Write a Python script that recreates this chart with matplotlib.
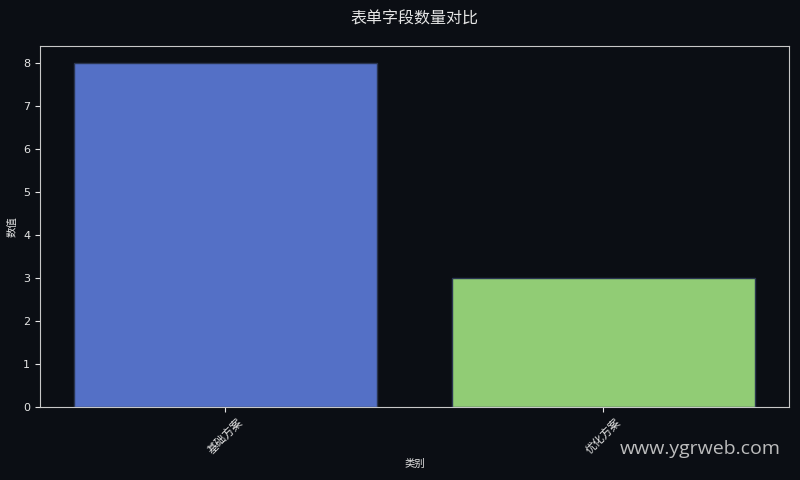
import matplotlib
matplotlib.use("Agg")
import matplotlib.pyplot as plt

categories = ["基础方案", "优化方案"]
values = [8, 3]
colors = ["#5470c6", "#91cc75"]
title = "表单字段数量对比"
xlabel = "类别"
ylabel = "数值"
watermark = "www.ygrweb.com"

plt.rcParams['font.family'] = ['DejaVu Sans', 'Noto Sans CJK SC']
bg = "#0b0e14"
fg = "#e6e6e6"

fig = plt.figure(figsize=(8, 4.8), dpi=100, facecolor=bg)
ax = fig.add_axes([0.05, 0.152, 0.936, 0.752], facecolor=bg)

ax.bar(categories, values, color=colors, width=0.8, edgecolor="#2a3550", linewidth=1)

cjk = ['Noto Sans CJK SC', 'DejaVu Sans']
ax.set_title(title, color=fg, fontsize=11.5, pad=16, family=cjk)
ax.set_xlabel(xlabel, color=fg, fontsize=7.5, family=cjk, labelpad=2)
ax.set_ylabel(ylabel, color=fg, fontsize=7.5, family=cjk)
ax.tick_params(colors=fg, labelsize=8)
for lbl in ax.get_xticklabels():
    lbl.set_rotation(45)
    lbl.set_fontsize(8)
    lbl.set_family(cjk)
for s in ax.spines.values():
    s.set_color("#c8c8c8")

fig.text(0.976, 0.065, watermark, color="#d0d0d0", fontsize=14, ha="right", va="center",
         alpha=0.9, family=['Open Sans', 'DejaVu Sans'])

fig.savefig("out.png", dpi=100, facecolor=bg)
